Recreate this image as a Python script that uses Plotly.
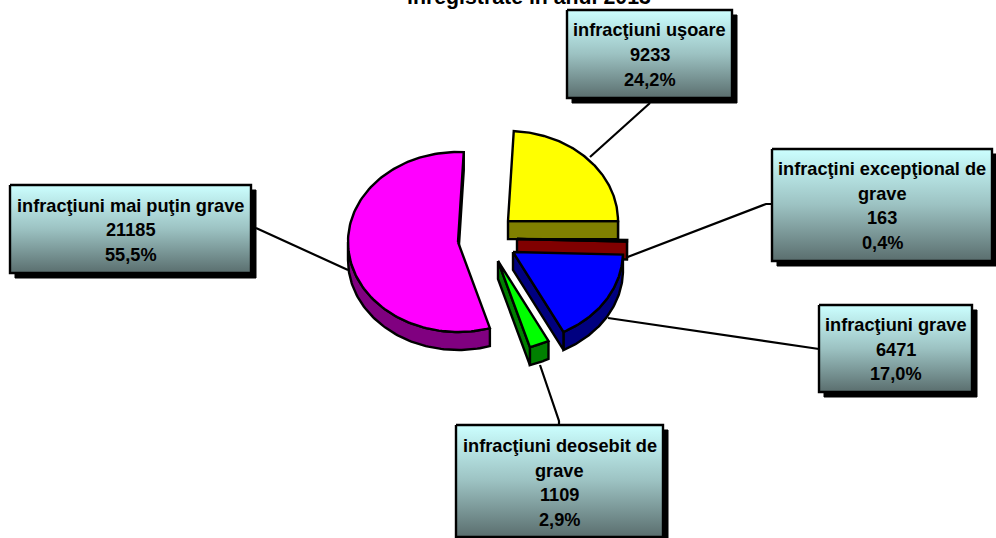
import numpy as np
import plotly.graph_objects as go

# Data
categories = ["infracţiuni uşoare", "infracţini excepţional de grave", "infracţiuni grave",
              "infracţiuni deosebit de grave", "infracţiuni mai puţin grave"]
values = [9233, 163, 6471, 1109, 21185]
percent_labels = ["24,2%", "0,4%", "17,0%", "2,9%", "55,5%"]
label_lines = [["infracţiuni uşoare"], ["infracţini excepţional de", "grave"], ["infracţiuni grave"],
               ["infracţiuni deosebit de", "grave"], ["infracţiuni mai puţin grave"]]
title_text = "înregistrate în anul 2013"

# Style / layout (pixel space of a 996x538 page)
W, H = 996, 538
start_angle = 3.0
rx, ry, depth = 110, 90, 18
top_colors = ["#FFFF00", "#FF0000", "#0000FF", "#00FF00", "#FF00FF"]
side_colors = ["#808000", "#800000", "#000080", "#008000", "#800080"]
centers = [(508, 221), (517, 239), (513, 252), (498, 261), (458, 242)]
boxes = [(567, 10, 732, 98), (772, 149, 992, 261), (819, 305, 972, 392), (456, 425, 663, 537), (10, 185, 251, 273)]
line_ys = [[30, 55, 80], [169, 194, 218, 243], [325, 350, 374], [446, 471, 495, 520], [206, 230, 255]]
leaders = [[(590, 157), (650, 103)], [(625, 258), (766, 204), (772, 204)], [(608, 318), (814, 349), (819, 349)],
           [(540, 365), (559, 421), (559, 425)], [(256, 228), (348, 270)]]
draw_order = [4, 0, 1, 2, 3]
shadow = 5
font = "Liberation Sans, Arial, sans-serif"
fsize = 18.2
title_size = 21.3

total = sum(values)
fig = go.Figure()


def poly(xs, ys, fill, lw=2.4):
    xs, ys = list(xs), list(ys)
    fig.add_trace(go.Scatter(x=xs + xs[:1], y=ys + ys[:1], mode="lines", fill="toself", fillcolor=fill,
                             line=dict(color="black", width=lw), hoverinfo="skip", showlegend=False))


# connector lines
for pts in leaders:
    fig.add_trace(go.Scatter(x=[p[0] for p in pts], y=[p[1] for p in pts], mode="lines",
                             line=dict(color="black", width=2.2), hoverinfo="skip", showlegend=False))

# angular extents come from the values
edges = np.concatenate([[0], np.cumsum(values)]) / total * 360 + start_angle


def pt(c, th):
    r = np.radians(th)
    return c[0] + rx * np.sin(r), c[1] - ry * np.cos(r)


for i in draw_order:
    a, b = edges[i], edges[i + 1]
    c = centers[i]
    # outer wall (front-facing part of the rim)
    lo, hi = max(a, 90), min(b, 270)
    if hi > lo:
        th = np.linspace(lo, hi, 80)
        x, y = pt(c, th)
        poly(np.r_[x, x[::-1]], np.r_[y, y[::-1] + depth], side_colors[i])
    # cut-edge wall at the end of the slice
    ex, ey = pt(c, b)
    if np.cos(np.radians(b + 90)) < 0:
        poly([c[0], ex, ex, c[0]], [c[1], ey, ey + depth, c[1] + depth], side_colors[i])
    # top face
    th = np.linspace(a, b, 120)
    x, y = pt(c, th)
    poly(np.r_[c[0], x], np.r_[c[1], y], top_colors[i])

annotations = [dict(x=528.5, y=1, xref="x", yref="paper", text=f"<b>{title_text}</b>", showarrow=False, yshift=-11,
                    font=dict(family=font, size=title_size, color="black"), xanchor="center", yanchor="bottom")]

# label boxes
for i in range(len(values)):
    x0, y0, x1, y1 = boxes[i]
    s = shadow
    fig.add_trace(go.Scatter(x=[x0 + s, x1 + s, x1 + s, x0 + s, x0 + s], y=[y0 + s, y0 + s, y1 + s, y1 + s, y0 + s],
                             mode="lines", fill="toself", fillcolor="black", line=dict(color="black", width=1),
                             hoverinfo="skip", showlegend=False))
    fig.add_trace(go.Scatter(x=[x0, x1, x1, x0, x0], y=[y0, y0, y1, y1, y0], mode="lines", fill="toself",
                             fillgradient=dict(type="vertical", start=y1, stop=y0,
                                               colorscale=[[0, "#5A6E6E"], [0.5, "#9CC2C2"], [1, "#CCFFFF"]]),
                             line=dict(color="black", width=2.4), hoverinfo="skip", showlegend=False))
    lines = label_lines[i] + [str(values[i]), percent_labels[i]]
    for text, yy in zip(lines, line_ys[i]):
        annotations.append(dict(x=(x0 + x1) / 2, y=yy, xref="x", yref="y", text=f"<b>{text}</b>", showarrow=False,
                                font=dict(family=font, size=fsize, color="black"), xanchor="center", yanchor="middle"))

fig.update_layout(width=W, height=H, margin=dict(l=0, r=0, t=0, b=0), paper_bgcolor="white", plot_bgcolor="white",
                  showlegend=False, annotations=annotations,
                  xaxis=dict(range=[0, W], visible=False, fixedrange=True),
                  yaxis=dict(range=[H, 0], visible=False, fixedrange=True))
fig.write_html("out.html", config=dict(displayModeBar=False),
               post_script="document.body.style.margin='0';document.body.style.overflow='hidden';")
